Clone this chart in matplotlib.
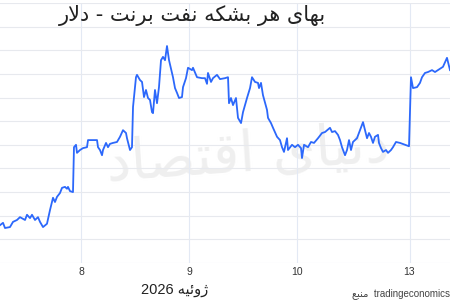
import matplotlib
matplotlib.use("Agg")
from matplotlib import pyplot as plt

# Brent price (hours from left edge, USD)
hours = [0, 0.67, 1.11, 2.22, 2.89, 3.78, 4.44, 5.56, 6.0, 6.67, 7.11, 7.78, 8.44, 8.89, 9.33, 9.56,
         10.44, 11.11, 11.78, 12.22, 12.67, 13.33, 13.78, 14.44, 14.89, 15.11, 15.56, 16.22, 16.44,
         16.89, 17.11, 17.78, 18.44, 19.33, 19.56, 20.67, 21.56, 21.78, 22.22, 22.67, 22.89, 23.56,
         24.0, 24.44, 25.11, 26.0, 26.67, 27.33, 28.0, 28.22, 28.89, 29.33, 29.56, 30.22, 30.44,
         31.11, 31.56, 32.0, 32.44, 32.89, 33.33, 33.78, 34.0, 34.44, 34.89, 35.33, 35.78, 36.22,
         36.67, 37.11, 37.56, 38.22, 38.44, 38.89, 39.33, 39.78, 40.44, 40.67, 41.33, 41.78, 42.67,
         42.89, 43.78, 44.89, 45.56, 46.0, 46.22, 46.89, 47.33, 48.22, 48.89, 50.0, 50.67, 50.89,
         51.33, 51.78, 52.44, 52.89, 53.56, 54.0, 54.89, 55.56, 56.0, 56.67, 57.33, 57.56, 58.0,
         58.44, 59.33, 59.56, 60.22, 60.67, 61.56, 62.22, 62.67, 63.11, 63.78, 64.0, 64.89, 65.56,
         66.22, 66.89, 67.11, 67.56, 68.44, 69.11, 69.78, 70.67, 71.56, 72.22, 73.33, 73.78, 74.44,
         75.11, 75.56, 76.0, 76.67, 77.11, 77.56, 78.0, 78.44, 79.33, 80.0, 80.67, 81.11, 81.56,
         82.0, 82.44, 82.89, 83.33, 84.0, 84.22, 84.67, 85.11, 85.78, 86.22, 86.89, 87.33, 88.0,
         88.89, 90.0, 90.89, 91.33, 91.78, 92.67, 93.33, 93.78, 94.44, 95.11, 96.0, 96.67, 97.33,
         98.44, 99.33, 100.0]
price = [67.30, 67.35, 67.24, 67.26, 67.37, 67.41, 67.47, 67.41, 67.52, 67.45, 67.52, 67.41, 67.47,
         67.37, 67.30, 67.26, 67.33, 67.62, 67.88, 67.79, 67.90, 67.98, 68.09, 68.11, 68.07, 68.11,
         68.02, 68.00, 68.95, 69.00, 68.83, 68.89, 68.93, 68.95, 69.10, 69.10, 69.10, 68.95, 68.89,
         68.78, 68.89, 69.04, 68.95, 69.02, 69.04, 69.06, 69.17, 69.31, 69.25, 69.14, 68.89, 68.95,
         69.80, 70.43, 70.48, 70.37, 70.33, 70.01, 70.16, 69.99, 69.95, 69.69, 69.67, 70.16, 69.88,
         70.22, 70.79, 70.86, 70.79, 71.09, 70.79, 70.52, 70.43, 70.20, 70.10, 69.99, 70.01, 70.22,
         70.41, 70.63, 70.58, 70.63, 70.43, 70.41, 70.41, 70.29, 70.52, 70.33, 70.41, 70.48, 70.39,
         70.41, 70.43, 69.88, 69.99, 69.84, 69.99, 69.57, 69.46, 69.69, 69.99, 70.20, 70.43, 70.33,
         70.31, 70.20, 70.31, 70.05, 69.74, 69.57, 69.46, 69.36, 69.17, 69.10, 68.95, 68.85, 69.14,
         68.89, 69.00, 68.95, 69.00, 68.93, 68.72, 69.00, 68.95, 69.06, 69.04, 69.14, 69.25, 69.27,
         69.36, 69.27, 69.29, 69.21, 69.10, 68.95, 68.78, 68.89, 69.10, 68.89, 69.06, 69.14, 69.31,
         69.48, 69.31, 69.14, 69.25, 69.17, 69.04, 69.17, 69.21, 69.04, 68.93, 68.85, 68.89, 68.83,
         68.89, 68.95, 69.06, 69.04, 69.00, 68.97, 70.43, 70.20, 70.22, 70.31, 70.43, 70.52, 70.54,
         70.58, 70.54, 70.58, 70.65, 70.84, 70.58]

tick_hours = [18, 42, 66, 91]
tick_labels = ["8", "9", "10", "13"]

title_text = "بهای هر بشکه نفت برنت - دلار"
month_text = "ژوئیه"
year_text = "2026"
source_word = "منبع"
source_name = "tradingeconomics"
watermark_text = "دنیای اقتصاد"

# matplotlib has no arabic shaping, so do it by hand with presentation forms
FORMS = {  # isolated, final, initial, medial
    "ا": ("\uFE8D", "\uFE8E", None, None),
    "ب": ("\uFE8F", "\uFE90", "\uFE91", "\uFE92"),
    "ت": ("\uFE95", "\uFE96", "\uFE97", "\uFE98"),
    "د": ("\uFEA9", "\uFEAA", None, None),
    "ر": ("\uFEAD", "\uFEAE", None, None),
    "ژ": ("\uFB8A", "\uFB8B", None, None),
    "ش": ("\uFEB5", "\uFEB6", "\uFEB7", "\uFEB8"),
    "ص": ("\uFEB9", "\uFEBA", "\uFEBB", "\uFEBC"),
    "ع": ("\uFEC9", "\uFECA", "\uFECB", "\uFECC"),
    "ف": ("\uFED1", "\uFED2", "\uFED3", "\uFED4"),
    "ق": ("\uFED5", "\uFED6", "\uFED7", "\uFED8"),
    "ک": ("\uFB8E", "\uFB8F", "\uFB90", "\uFB91"),
    "ل": ("\uFEDD", "\uFEDE", "\uFEDF", "\uFEE0"),
    "م": ("\uFEE1", "\uFEE2", "\uFEE3", "\uFEE4"),
    "ن": ("\uFEE5", "\uFEE6", "\uFEE7", "\uFEE8"),
    "ه": ("\uFEE9", "\uFEEA", "\uFEEB", "\uFEEC"),
    "و": ("\uFEED", "\uFEEE", None, None),
    "ی": ("\uFBFC", "\uFBFD", "\uFBFE", "\uFBFF"),
    "ئ": ("\uFE89", "\uFE8A", "\uFE8B", "\uFE8C"),
}


def shape(s):
    out = []
    i = 0
    while i < len(s):
        c = s[i]
        prev = s[i - 1] if i > 0 else ""
        joins_prev = prev in FORMS and FORMS[prev][2] is not None
        if c == "ل" and i + 1 < len(s) and s[i + 1] == "ا":
            out.append("\uFEFC" if joins_prev else "\uFEFB")
            i += 2
            continue
        if c not in FORMS:
            out.append(c)
            i += 1
            continue
        nxt = s[i + 1] if i + 1 < len(s) else ""
        joins_next = FORMS[c][2] is not None and nxt in FORMS
        f = FORMS[c]
        if joins_prev and joins_next:
            out.append(f[3])
        elif joins_prev:
            out.append(f[1])
        elif joins_next:
            out.append(f[2])
        else:
            out.append(f[0])
        i += 1
    return "".join(out)[::-1]


fams = ["Liberation Sans", "DejaVu Sans"]

fig = plt.figure(figsize=(4.5, 3), dpi=100)
ax = fig.add_axes([0, 37 / 300, 1, 260 / 300])

ax.text(55, 68.75, shape(watermark_text), fontsize=40, color="#efefef",
        ha="center", va="center", family="DejaVu Sans", zorder=0, rotation=4)

ax.plot(hours, price, color="#2c68fb", linewidth=1.3, zorder=3)

ax.set_xlim(0, 100)
ax.set_ylim(66.5, 72.0)
ax.set_yticks([66.5 + 0.5 * k for k in range(12)])
ax.set_xticks(tick_hours)
ax.set_xticklabels([])
ax.set_yticklabels([])
ax.tick_params(length=0)
ax.grid(True, axis="y", color="#e7e9ee", linewidth=0.8)
ax.grid(True, axis="x", color="#e3e9f4", linewidth=0.8)
for s in ax.spines.values():
    s.set_visible(False)

for h, lab in zip(tick_hours, tick_labels):
    fig.text(h / 100, 1 - 272 / 300, lab, ha="center", va="center", fontsize=7.5,
             family=fams, color="#333333")

fig.text(192 / 450, 1 - 16 / 300, shape(title_text), ha="center", va="center", fontsize=15,
         family="DejaVu Sans", color="#222222")
fig.text(175 / 450, 1 - 290 / 300, year_text + " " + shape(month_text), ha="center", va="center",
         fontsize=10.5, family=fams, color="#222222")
fig.text(352 / 450, 1 - 294 / 300, shape(source_word) + "  " + source_name, ha="left", va="center",
         fontsize=7, family=fams, color="#444444")

fig.savefig("out.png", dpi=100)
